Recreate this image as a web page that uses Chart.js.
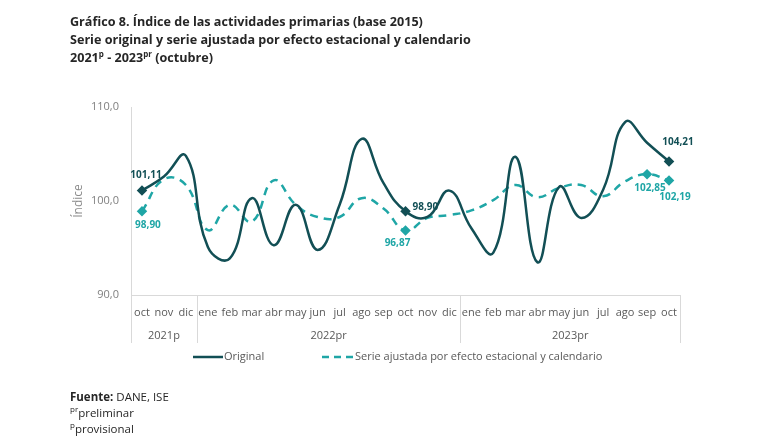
<!DOCTYPE html>
<html>
<head>
<meta charset="utf-8">
<script src="https://cdn.jsdelivr.net/npm/chart.js@4"></script>
<style>
  body { margin:0; background:#fff; font-family:"Open Sans", sans-serif; }
  #wrap { position:relative; width:763px; height:442px; overflow:hidden; }
  #chart { position:absolute; left:0; top:0; }
  .titulo { position:absolute; left:70px; top:13px; font-weight:bold; font-size:12.6px; line-height:18px; color:#262626; }
  .fuente { position:absolute; left:70px; top:389px; font-size:11.5px; line-height:16px; color:#262626; }
  sup { font-size:8px; vertical-align:5px; line-height:0; }
</style>
</head>
<body>
<div id="wrap">
  <canvas id="chart" width="763" height="442"></canvas>
  <div class="titulo">
    Gráfico 8. Índice de las actividades primarias (base 2015)<br>
    Serie original y serie ajustada por efecto estacional y calendario<br>
    2021<sup>p</sup> - 2023<sup>pr</sup> (octubre)
  </div>
  <div class="fuente">
    <b>Fuente:</b> DANE, ISE<br>
    <sup>pr</sup>preliminar<br>
    <sup>p</sup>provisional
  </div>
</div>
<script>
// meses (oct 2021 - oct 2023)
var meses = ['oct','nov','dic',
  'ene','feb','mar','abr','may','jun','jul','ago','sep','oct','nov','dic',
  'ene','feb','mar','abr','may','jun','jul','ago','sep','oct']
var anios = [{nombre:'2021p', desde:0, hasta:2}, {nombre:'2022pr', desde:3, hasta:14}, {nombre:'2023pr', desde:15, hasta:24}]

var original = [101.11,102.6,104.8, 95.1,93.9,100.3,95.3,99.6,94.8,99.6,106.6,101.9,98.90,98.3,101.1, 97.1,94.5,104.7,93.5,101.5,98.2,101.2,108.4,106.2,104.21]
var ajustada = [98.90,102.3,101.7, 96.9,99.6,97.8,102.2,99.6,98.3,98.3,100.3,99.2,96.87,98.2,98.5, 99.0,100.1,101.7,100.4,101.4,101.7,100.5,102.1,102.85,102.19]

// puntos marcados y etiquetas
var marcasOriginal = [0,12,24]
var marcasAjustada = [0,12,23,24]

var ticksY = [90,100,110]

var colorOriginal = '#124f55'
var colorAjustada = '#1fa6a6'

function radios(marcas){
  return meses.map(function(m,i){ return marcas.indexOf(i) >= 0 ? 3.5 : 0 })
}
function coma(v, d){ return v.toFixed(d).replace('.', ',') }

var etiquetas = {
  id:'etiquetas',
  afterDatasetsDraw:function(chart){
    var c = chart.ctx
    c.save()
    c.font = 'bold 10px "Open Sans"'
    c.textBaseline = 'middle'
    var m0 = chart.getDatasetMeta(0).data
    var m1 = chart.getDatasetMeta(1).data
    // original
    c.fillStyle = colorOriginal
    c.textAlign = 'center'
    c.fillText(coma(original[0],2), m0[0].x+4, m0[0].y-15)
    c.textAlign = 'left'
    c.fillText(coma(original[12],2), m0[12].x+7, m0[12].y-4)
    c.textAlign = 'center'
    c.fillText(coma(original[24],2), m0[24].x+9, m0[24].y-19)
    // ajustada
    c.fillStyle = colorAjustada
    c.fillText(coma(ajustada[0],2), m1[0].x+6, m1[0].y+14)
    c.fillText(coma(ajustada[12],2), m1[12].x-8, m1[12].y+13)
    c.fillText(coma(ajustada[23],2), m1[23].x+3, m1[23].y+14)
    c.fillText(coma(ajustada[24],2), m1[24].x+6, m1[24].y+17)
    c.restore()
  },
  afterDraw:function(chart){
    var c = chart.ctx
    var x = chart.scales.x
    var a = chart.chartArea
    c.save()
    // separadores de años
    c.strokeStyle = '#d9d9d9'
    c.lineWidth = 1
    var bordes = [a.left]
    anios.forEach(function(an){
      var r = an.hasta < meses.length-1 ? (x.getPixelForValue(an.hasta)+x.getPixelForValue(an.hasta+1))/2 : a.right
      bordes.push(r)
    })
    bordes.forEach(function(b){
      c.beginPath(); c.moveTo(Math.round(b)+0.5, a.bottom); c.lineTo(Math.round(b)+0.5, a.bottom+48); c.stroke()
    })
    c.font = '11px "Open Sans"'
    c.fillStyle = '#595959'
    c.textAlign = 'center'
    c.textBaseline = 'middle'
    anios.forEach(function(an,i){
      c.fillText(an.nombre, (bordes[i]+bordes[i+1])/2, a.bottom+41)
    })
    // leyenda
    var ly = 357
    c.lineWidth = 2.5
    c.strokeStyle = colorOriginal
    c.beginPath(); c.moveTo(193, ly); c.lineTo(223, ly); c.stroke()
    c.strokeStyle = colorAjustada
    c.setLineDash([7,5])
    c.beginPath(); c.moveTo(322, ly); c.lineTo(353, ly); c.stroke()
    c.setLineDash([])
    c.textAlign = 'left'
    c.fillStyle = '#595959'
    c.fillText('Original', 224, ly)
    c.fillText('Serie ajustada por efecto estacional y calendario', 355, ly)
    c.restore()
  }
}

var grafico = new Chart(document.getElementById('chart'), {
  type:'line',
  data:{
    labels:meses,
    datasets:[
      {label:'Original', data:original, borderColor:colorOriginal, backgroundColor:colorOriginal,
       borderWidth:2.5, tension:0.45, pointStyle:'rectRot', pointRadius:radios(marcasOriginal), pointHoverRadius:0},
      {label:'Serie ajustada por efecto estacional y calendario', data:ajustada, borderColor:colorAjustada, backgroundColor:colorAjustada,
       borderWidth:2.5, borderDash:[8,6], tension:0.45, pointStyle:'rectRot', pointRadius:radios(marcasAjustada), pointHoverRadius:0}
    ]
  },
  options:{
    responsive:false,
    animation:false,
    events:[],
    layout:{padding:{left:60, right:83, top:107, bottom:0}},
    plugins:{legend:{display:false}, tooltip:{enabled:false}},
    scales:{
      x:{
        offset:true,
        grid:{display:false, offset:true},
        border:{display:true, color:'#d9d9d9'},
        ticks:{color:'#595959', font:{family:'Open Sans', size:11}, maxRotation:0, autoSkip:false, padding:3},
        afterFit:function(s){ s.height = 147 }
      },
      y:{
        min:90, max:110,
        afterBuildTicks:function(s){ s.ticks = ticksY.map(function(v){ return {value:v} }) },
        grid:{display:false},
        border:{display:true, color:'#d9d9d9'},
        ticks:{color:'#7f7f7f', font:{family:'Open Sans', size:11}, padding:4, callback:function(v){ return coma(v,1) }},
        title:{display:true, text:'Índice', color:'#8c8c8c', font:{family:'Open Sans', size:12}, padding:{top:11,bottom:10}},
        afterFit:function(s){ s.width = 71 }
      }
    }
  },
  plugins:[etiquetas]
})
</script>
</body>
</html>
